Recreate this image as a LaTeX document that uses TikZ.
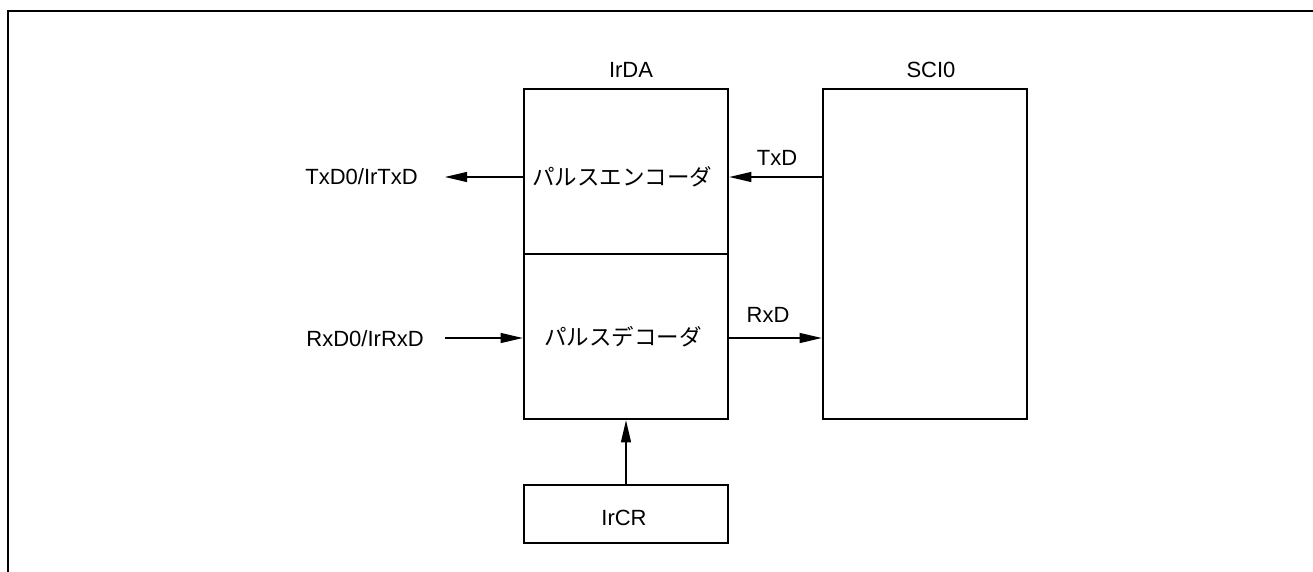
\documentclass[tikz,border=0pt]{standalone}
\usepackage{fontspec}
\setmainfont{Liberation Sans}
\newfontfamily\jp{Noto Sans CJK JP}
\usetikzlibrary{arrows.meta}
\begin{document}
\begin{tikzpicture}[x=1pt,y=-1pt,
  blk/.style={draw,line width=2.6pt,rectangle,inner sep=0pt},
  txt/.style={font=\fontsize{22}{26}\selectfont,inner sep=0pt},
  jtxt/.style={font=\fontsize{22.5}{26}\selectfont\jp,inner sep=0pt},
  sig/.style={line width=1.1pt,-{Triangle[length=22pt,width=10pt]}}]
\useasboundingbox (0,0) rectangle (1313,572);
\draw[line width=2pt] (8,572) -- (8,11) -- (1313,11);

\node[blk,minimum width=204pt,minimum height=165pt] (enc) at (626,171.5) {};
\node[blk,minimum width=204pt,minimum height=165pt] (dec) at (626,336.5) {};
\node[blk,minimum width=204pt,minimum height=330pt] (sci) at (925,254) {};
\node[blk,minimum width=204pt,minimum height=58pt] (ircr) at (626,514) {};

\node[txt,anchor=base] (irdalbl) at (631,78) {IrDA};
\node[txt,anchor=base] (scilbl) at (931,78) {SCI0};
\node[jtxt] (enclbl) at (622,177) {パルスエンコーダ};
\node[jtxt] (declbl) at (623,337) {パルスデコーダ};
\node[txt,anchor=base] (ircrlbl) at (624,525) {IrCR};
\node[txt,anchor=base] (txdlbl) at (777,165) {TxD};
\node[txt,anchor=base] (rxdlbl) at (768,322) {RxD};
\node[txt,anchor=base east] (txolbl) at (418,184) {TxD0/IrTxD};
\node[txt,anchor=base east] (rxilbl) at (424,346) {RxD0/IrRxD};

\coordinate (txo) at (445,177);
\coordinate (rxi) at (445,338);

\draw[sig] (sci.west |- txo) -- (enc.east |- txo);
\draw[sig] (enc.west |- txo) -- (txo);
\draw[sig] (rxi) -- (dec.west |- rxi);
\draw[sig] (dec.east |- rxi) -- (sci.west |- rxi);
\draw[sig] (ircr.north) -- (dec.south);
\end{tikzpicture}
\end{document}
